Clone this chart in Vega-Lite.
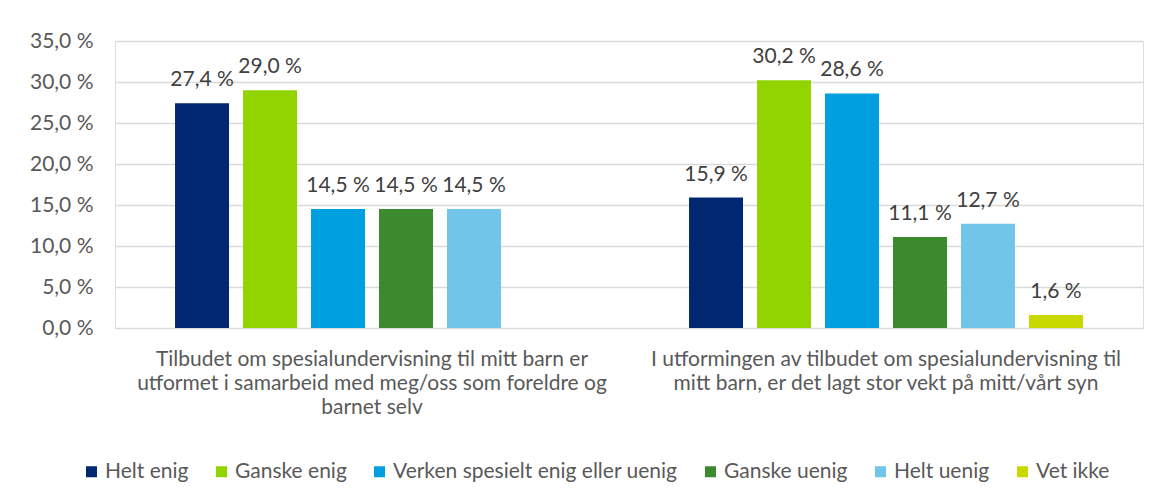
{
  "$schema": "https://vega.github.io/schema/vega-lite/v6.json",
  "width": 1028,
  "height": 287,
  "autosize": {"type": "none"},
  "padding": {"left": 115, "top": 41, "right": 17, "bottom": 174},
  "background": "white",
  "data": {
    "values": [
      {"g": "A", "c": "Helt enig", "v": 27.4},
      {"g": "A", "c": "Ganske enig", "v": 29.0},
      {"g": "A", "c": "Verken spesielt enig eller uenig", "v": 14.5},
      {"g": "A", "c": "Ganske uenig", "v": 14.5},
      {"g": "A", "c": "Helt uenig", "v": 14.5},
      {"g": "B", "c": "Helt enig", "v": 15.9},
      {"g": "B", "c": "Ganske enig", "v": 30.2},
      {"g": "B", "c": "Verken spesielt enig eller uenig", "v": 28.6},
      {"g": "B", "c": "Ganske uenig", "v": 11.1},
      {"g": "B", "c": "Helt uenig", "v": 12.7},
      {"g": "B", "c": "Vet ikke", "v": 1.6}
    ]
  },
  "transform": [
    {"calculate": "replace(format(datum.v, '.1f'), '.', ',') + ' %'", "as": "lab"}
  ],
  "encoding": {
    "x": {
      "field": "g",
      "type": "nominal",
      "scale": {"paddingInner": 0, "paddingOuter": 0},
      "axis": {
        "title": null,
        "domain": false,
        "ticks": false,
        "labelAngle": 0,
        "labelPadding": 20,
        "labelFont": "Lato",
        "labelFontSize": 21,
        "labelColor": "#595959",
        "labelLineHeight": 24,
        "labelBaseline": "top",
        "labelLimit": 700,
        "labelExpr": "datum.label == 'A' ? ['Tilbudet om spesialundervisning til mitt barn er', 'utformet i samarbeid med meg/oss som foreldre og', 'barnet selv'] : ['I utformingen av tilbudet om spesialundervisning til', 'mitt barn, er det lagt stor vekt på mitt/vårt syn']"
      }
    },
    "xOffset": {
      "field": "c",
      "type": "nominal",
      "scale": {
        "domain": ["Helt enig", "Ganske enig", "Verken spesielt enig eller uenig", "Ganske uenig", "Helt uenig", "Vet ikke"],
        "paddingInner": 0.206,
        "paddingOuter": 0.883
      }
    },
    "y": {
      "field": "v",
      "type": "quantitative",
      "scale": {"domain": [0, 35]},
      "axis": {
        "title": null,
        "values": [0, 5, 10, 15, 20, 25, 30, 35],
        "domain": false,
        "ticks": false,
        "labelPadding": 22,
        "labelFont": "Lato",
        "labelFontSize": 21,
        "labelColor": "#595959",
        "gridColor": "#D9D9D9",
        "gridWidth": 1.3,
        "labelExpr": "replace(format(datum.value, '.1f'), '.', ',') + ' %'"
      }
    }
  },
  "layer": [
    {
      "mark": {"type": "bar"},
      "encoding": {
        "color": {
          "field": "c",
          "type": "nominal",
          "scale": {
            "domain": ["Helt enig", "Ganske enig", "Verken spesielt enig eller uenig", "Ganske uenig", "Helt uenig", "Vet ikke"],
            "range": ["#002870", "#92D400", "#00A0E0", "#3C8A2E", "#71C5E8", "#C8D900"]
          },
          "legend": {
            "title": null,
            "orient": "none",
            "direction": "horizontal",
            "legendX": -34,
            "legendY": 420,
            "symbolType": "square",
            "symbolSize": 121,
            "symbolStrokeWidth": 0,
            "labelFont": "Lato",
            "labelFontSize": 21,
            "labelColor": "#595959",
            "labelOffset": 3,
            "columnPadding": 22,
            "labelLimit": 400
          }
        }
      }
    },
    {
      "mark": {"type": "text", "baseline": "bottom", "dy": -13, "font": "Lato", "fontSize": 21, "color": "#404040"},
      "encoding": {"text": {"field": "lab"}}
    }
  ]
}
